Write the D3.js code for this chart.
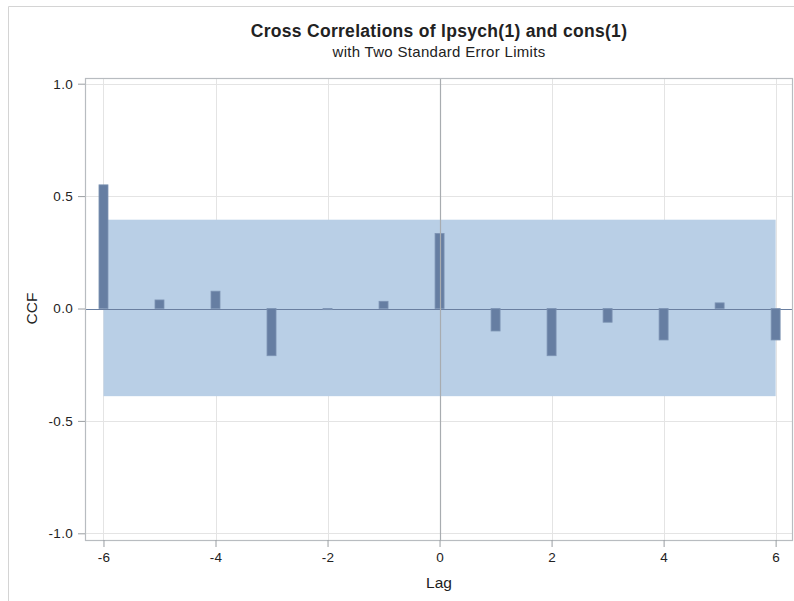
<!DOCTYPE html>
<html>
<head>
<meta charset="utf-8">
<script src="https://cdn.jsdelivr.net/npm/d3@7"></script>
<style>
  body { margin: 0; background: #fff; }
  text { font-family: Arial, "Liberation Sans", sans-serif; fill: #222; }
  .grid line { stroke: #e4e4e4; }
</style>
</head>
<body>
<div id="chart"></div>
<script>
// Chart data
const lags = [-6, -5, -4, -3, -2, -1, 0, 1, 2, 3, 4, 5, 6]
const ccf = [0.55, 0.038, 0.077, -0.21, -0.005, 0.032, 0.334, -0.10, -0.21, -0.061, -0.14, 0.025, -0.14]
const stdErrLimit = [-0.39, 0.395] // two standard error band
const xTicks = [-6, -4, -2, 0, 2, 4, 6]
const yTicks = [-1.0, -0.5, 0.0, 0.5, 1.0]

const width = 794
const height = 601
const margin = { top: 78, right: 1, bottom: 61, left: 85 }

const svg = d3.select('#chart').append('svg')
  .attr('width', width)
  .attr('height', height)

// Outer frame lines
svg.append('line').attr('x1', 8.5).attr('x2', width).attr('y1', 6.5).attr('y2', 6.5).attr('stroke', '#d4d4d4')
svg.append('line').attr('x1', 8.5).attr('x2', 8.5).attr('y1', 6.5).attr('y2', height).attr('stroke', '#d4d4d4')

// Scales
const x = d3.scaleLinear().domain([-6.33, 6.31]).range([margin.left, width - margin.right])
const y = d3.scaleLinear().domain([-1.0, 1.0]).range([533.3, 83.7])

const plotTop = margin.top
const plotBottom = height - margin.bottom

// Hyphen instead of unicode minus, like the original
const hyphen = f => d => f(d).replace('\u2212', '-')

// Gridlines
const grid = svg.append('g').attr('class', 'grid')
grid.selectAll('line.v').data(xTicks).enter().append('line')
  .attr('x1', d => Math.round(x(d)) + 0.5).attr('x2', d => Math.round(x(d)) + 0.5)
  .attr('y1', plotTop).attr('y2', plotBottom)
grid.selectAll('line.h').data(yTicks).enter().append('line')
  .attr('x1', margin.left).attr('x2', width - margin.right)
  .attr('y1', d => Math.round(y(d)) + 0.5).attr('y2', d => Math.round(y(d)) + 0.5)

// Standard error band
svg.append('rect')
  .attr('x', x(-6)).attr('width', x(6) - x(-6))
  .attr('y', y(stdErrLimit[1])).attr('height', y(stdErrLimit[0]) - y(stdErrLimit[1]))
  .attr('fill', '#b9cfe6')

// Zero reference line
svg.append('line')
  .attr('x1', margin.left).attr('x2', width - margin.right)
  .attr('y1', Math.round(y(0)) + 0.5).attr('y2', Math.round(y(0)) + 0.5)
  .attr('stroke', '#6a7fa0').attr('stroke-width', 1.2)

// Bars
const barW = 9
svg.append('g').selectAll('rect')
  .data(lags)
  .enter().append('rect')
  .attr('x', d => x(d) - barW / 2)
  .attr('width', barW)
  .attr('y', (d, i) => y(Math.max(0, ccf[i])))
  .attr('height', (d, i) => Math.max(1, Math.abs(y(ccf[i]) - y(0))))
  .attr('fill', '#667ea2')
  .attr('stroke', '#7d93b3')
  .attr('stroke-width', 0.8)

// Vertical line at lag 0
svg.append('line')
  .attr('x1', Math.round(x(0)) + 0.5).attr('x2', Math.round(x(0)) + 0.5)
  .attr('y1', plotTop).attr('y2', plotBottom)
  .attr('stroke', '#a8acb0').attr('stroke-width', 1.2)

// Plot frame
svg.append('rect')
  .attr('x', margin.left + 0.5).attr('y', plotTop + 0.5)
  .attr('width', width - margin.right - margin.left - 1).attr('height', plotBottom - plotTop)
  .attr('fill', 'none').attr('stroke', '#b8bcc0').attr('stroke-width', 1.2)

// Axes
const xAxis = svg.append('g')
  .attr('transform', `translate(0,${plotBottom})`)
  .call(d3.axisBottom(x).tickValues(xTicks).tickSize(7).tickPadding(5).tickFormat(hyphen(d3.format('d'))))
const yAxis = svg.append('g')
  .attr('transform', `translate(${margin.left},0)`)
  .call(d3.axisLeft(y).tickValues(yTicks).tickSize(7).tickPadding(5).tickFormat(hyphen(d3.format('.1f'))))
;[xAxis, yAxis].forEach(a => {
  a.select('.domain').remove()
  a.selectAll('.tick line').attr('stroke', '#9a9ea2')
  a.selectAll('.tick text').attr('font-size', 13.5).attr('letter-spacing', 0.3)
    .attr('fill', '#222').attr('font-family', 'Arial, "Liberation Sans", sans-serif')
})

// Titles
svg.append('text')
  .attr('x', 439).attr('y', 37)
  .attr('text-anchor', 'middle')
  .attr('font-size', 17.5).attr('font-weight', 'bold').attr('letter-spacing', 0.3)
  .text('Cross Correlations of lpsych(1) and cons(1)')
svg.append('text')
  .attr('x', 439).attr('y', 57)
  .attr('text-anchor', 'middle')
  .attr('font-size', 15).attr('letter-spacing', 0.3)
  .text('with Two Standard Error Limits')

// Axis labels
svg.append('text')
  .attr('x', 439).attr('y', 588)
  .attr('text-anchor', 'middle')
  .attr('font-size', 15.5)
  .text('Lag')
svg.append('text')
  .attr('transform', `translate(37,${y(0)}) rotate(-90)`)
  .attr('text-anchor', 'middle')
  .attr('font-size', 15.5)
  .text('CCF')
</script>
</body>
</html>
